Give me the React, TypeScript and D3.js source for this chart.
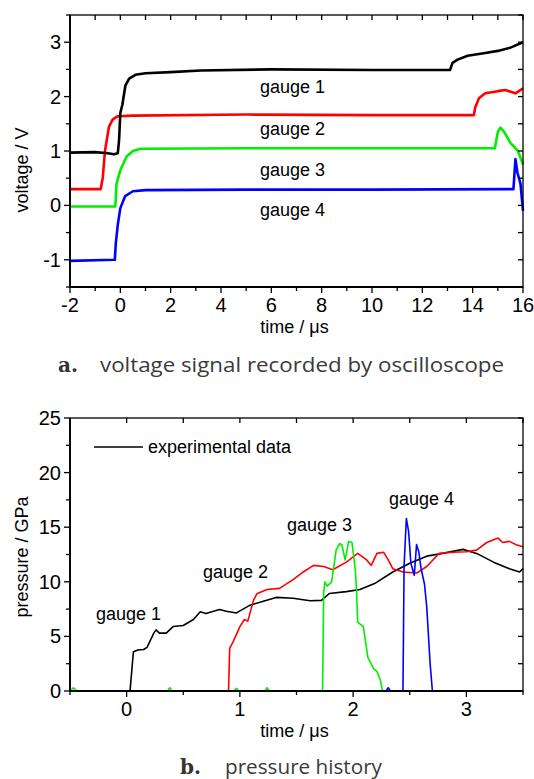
import React from "react";
import * as d3 from "d3";

// ---------- Data: panel a (voltage / V vs time / µs) ----------
const voltageXTicks = [-2, 0, 2, 4, 6, 8, 10, 12, 14, 16];
const voltageYTicks = [-1, 0, 1, 2, 3];
const gauge1Voltage: [number, number][] = [
  [-2, 0.97], [-1, 0.98], [-0.5, 0.96], [-0.25, 0.94], [-0.1, 0.96], [-0.05, 1.2], [0.0, 1.7],
  [0.08, 1.85], [0.2, 2.2], [0.35, 2.33], [0.6, 2.4], [1, 2.43], [2, 2.45], [3.2, 2.48], [6, 2.5],
  [10, 2.49], [13.1, 2.49], [13.2, 2.62], [13.4, 2.68], [13.8, 2.75], [14.5, 2.8], [15, 2.84],
  [15.5, 2.9], [16, 3.0],
];
const gauge2Voltage: [number, number][] = [
  [-2, 0.3], [-0.78, 0.3], [-0.7, 0.5], [-0.61, 1.0], [-0.45, 1.45], [-0.3, 1.58], [-0.1, 1.64],
  [0.5, 1.65], [5, 1.67], [10, 1.66], [14.05, 1.66], [14.1, 1.8], [14.25, 1.97], [14.5, 2.06],
  [15, 2.1], [15.3, 2.12], [15.7, 2.06], [16, 2.15],
];
const gauge3Voltage: [number, number][] = [
  [-2, -0.02], [-0.2, -0.02], [-0.15, 0.4], [0.0, 0.65], [0.25, 0.9], [0.5, 1.0], [0.8, 1.04],
  [5, 1.05], [10, 1.05], [14.88, 1.05], [15.0, 1.35], [15.1, 1.43], [15.25, 1.35], [15.5, 1.15],
  [15.8, 1.0], [16, 0.75],
];
const gauge4Voltage: [number, number][] = [
  [-2, -1.02], [-0.22, -1.0], [-0.18, -0.7], [-0.1, -0.35], [0.0, -0.05], [0.19, 0.17], [0.5, 0.26],
  [1, 0.28], [5, 0.29], [10, 0.29], [15.62, 0.3], [15.7, 0.85], [15.78, 0.6], [15.9, 0.4], [16, -0.1],
];

// ---------- Data: panel b (pressure / GPa vs time / µs) ----------
const pressureXTicks = [0, 1, 2, 3];
const pressureYTicks = [0, 5, 10, 15, 20, 25];
const gauge1Pressure: [number, number][] = [
  [-0.5, 0], [0.03, 0], [0.06, 3.6], [0.1, 3.75], [0.15, 3.8], [0.18, 4.0], [0.24, 5.3], [0.26, 5.6],
  [0.29, 5.3], [0.35, 5.3], [0.41, 5.9], [0.5, 6.0], [0.59, 6.55], [0.65, 7.25], [0.7, 7.1],
  [0.82, 7.47], [0.88, 7.3], [0.97, 7.15], [1.09, 7.86], [1.2, 8.2], [1.32, 8.57], [1.47, 8.5],
  [1.62, 8.26], [1.72, 8.3], [1.79, 8.93], [1.94, 9.1], [2.06, 9.3], [2.2, 9.9], [2.35, 10.9],
  [2.5, 11.7], [2.65, 12.35], [2.79, 12.6], [2.97, 12.97], [3.09, 12.6], [3.24, 11.8], [3.38, 11.2],
  [3.47, 10.9], [3.5, 11.2],
];
const gauge2Pressure: [number, number][] = [
  [-0.5, 0], [0.9, 0], [0.91, 3.9], [0.94, 4.5], [1.0, 5.9], [1.04, 6.55], [1.07, 6.4], [1.12, 8.3],
  [1.15, 8.9], [1.24, 9.3], [1.35, 9.4], [1.47, 10.2], [1.56, 10.9], [1.65, 11.5], [1.74, 11.4],
  [1.82, 11.1], [1.94, 11.8], [2.04, 12.6], [2.12, 12.0], [2.16, 11.5], [2.21, 12.6], [2.27, 12.7],
  [2.31, 12.0], [2.35, 11.2], [2.44, 10.9], [2.56, 10.8], [2.65, 11.4], [2.76, 12.6], [2.88, 12.7],
  [3.0, 12.75], [3.09, 12.9], [3.18, 13.6], [3.28, 14.0], [3.32, 13.6], [3.38, 13.7], [3.44, 13.4],
  [3.5, 13.2],
];
const gauge3Pressure: [number, number][] = [
  [-0.5, 0], [-0.47, 0.3], [-0.44, 0], [0.36, 0], [0.38, 0.3], [0.4, 0], [0.95, 0], [0.97, 0.25],
  [0.99, 0], [1.22, 0], [1.24, 0.3], [1.26, 0], [1.73, 0], [1.74, 9.0], [1.75, 10.0], [1.77, 9.6],
  [1.81, 10.0], [1.85, 12.9], [1.88, 13.5], [1.9, 13.4], [1.93, 12.0], [1.96, 13.7], [1.99, 13.6],
  [2.02, 11], [2.03, 9.2], [2.04, 6.3], [2.09, 5.9], [2.13, 3.1], [2.18, 2.05], [2.21, 1.8],
  [2.24, 1.0], [2.26, 0],
];
const gauge4Pressure: [number, number][] = [
  [-0.5, 0], [2.29, 0], [2.31, 0.3], [2.33, 0], [2.44, 0], [2.45, 11.5], [2.47, 15.8], [2.49, 14.6],
  [2.51, 11.7], [2.54, 10.6], [2.56, 13.4], [2.58, 12.75], [2.6, 11.2], [2.63, 9.8], [2.65, 7.7],
  [2.68, 2.5], [2.7, 0],
];

const FONT = "'Liberation Sans', Arial, sans-serif";

type Series = { data: [number, number][]; color: string };
type Label = { text: string; x: number; y: number };

function Panel(props: {
  left: number; top: number; right: number; bottom: number;
  xDomain: [number, number]; yDomain: [number, number];
  xTicks: number[]; yTicks: number[];
  xMinor: number; yMinor: number;
  series: Series[]; strokeWidth: number;
  labels: Label[]; yTitle: string; yTitleCenter: number;
  xTitleBaseline: number; xTickBaseline: number;
}) {
  const { left, top, right, bottom } = props;
  const x = d3.scaleLinear().domain(props.xDomain).range([left, right]);
  const y = d3.scaleLinear().domain(props.yDomain).range([bottom, top]);
  const line = d3.line<[number, number]>().x((d) => x(d[0])).y((d) => y(d[1]));
  const xAll = d3.range(props.xDomain[0], props.xDomain[1] + 1e-9, props.xMinor);
  const yAll = d3.range(props.yDomain[0], props.yDomain[1] + 1e-9, props.yMinor);
  const isMajor = (v: number, ticks: number[]) => ticks.some((t) => Math.abs(t - v) < 1e-6);
  return (
    <g>
      {props.series.map((s, i) => (
        <path key={i} d={line(s.data) || ""} fill="none" stroke={s.color}
          strokeWidth={props.strokeWidth} strokeLinejoin="round" />
      ))}
      <rect x={left} y={top} width={right - left} height={bottom - top} fill="none" stroke="#000" strokeWidth={1.3} />
      <line x1={left} x2={left} y1={top} y2={bottom} stroke="#000" strokeWidth={1.8} />
      <line x1={left} x2={right} y1={bottom} y2={bottom} stroke="#000" strokeWidth={1.8} />
      {xAll.map((v, i) => {
        const maj = isMajor(v, props.xTicks);
        return (
          <g key={"x" + i}>
            <line x1={x(v)} x2={x(v)} y1={bottom} y2={bottom + (maj ? 6 : 4)} stroke="#000" strokeWidth={1.3} />
            <line x1={x(v)} x2={x(v)} y1={top} y2={top + 5} stroke="#000" strokeWidth={1.3} />
          </g>
        );
      })}
      {yAll.map((v, i) => {
        const maj = isMajor(v, props.yTicks);
        return (
          <g key={"y" + i}>
            <line x1={left - (maj ? 6 : 4)} x2={left} y1={y(v)} y2={y(v)} stroke="#000" strokeWidth={1.3} />
            <line x1={right - 5} x2={right} y1={y(v)} y2={y(v)} stroke="#000" strokeWidth={1.3} />
          </g>
        );
      })}
      {props.xTicks.map((v) => (
        <text key={"xl" + v} x={x(v)} y={props.xTickBaseline} textAnchor="middle" fontSize={20} fontFamily={FONT}>
          {v < 0 ? "-" + Math.abs(v) : v}
        </text>
      ))}
      {props.yTicks.map((v) => (
        <text key={"yl" + v} x={left - 9} y={y(v)} dy="0.35em" textAnchor="end" fontSize={20} fontFamily={FONT}>
          {v < 0 ? "-" + Math.abs(v) : v}
        </text>
      ))}
      <text x={(left + right) / 2 - 2} y={props.xTitleBaseline} textAnchor="middle" fontSize={18} fontFamily={FONT}>
        time / μs
      </text>
      <text transform={`translate(28,${props.yTitleCenter}) rotate(-90)`} textAnchor="middle" fontSize={18} fontFamily={FONT}>
        {props.yTitle}
      </text>
      {props.labels.map((l, i) => (
        <text key={"l" + i} x={l.x} y={l.y} fontSize={18} fontFamily={FONT}>{l.text}</text>
      ))}
    </g>
  );
}

export default function App() {
  return (
    <svg width={534} height={779} style={{ position: "absolute", left: 0, top: 0, background: "#fff" }}>
      <rect width={534} height={779} fill="#fff" />
      <Panel
        left={70} top={15} right={523} bottom={287}
        xDomain={[-2, 16]} yDomain={[-1.5, 3.5]}
        xTicks={voltageXTicks} yTicks={voltageYTicks} xMinor={1} yMinor={0.5}
        series={[
          { data: gauge2Voltage, color: "#ff0000" },
          { data: gauge1Voltage, color: "#000000" },
          { data: gauge3Voltage, color: "#00ee00" },
          { data: gauge4Voltage, color: "#0000ff" },
        ]}
        strokeWidth={2.6}
        labels={[
          { text: "gauge 1", x: 260, y: 93 },
          { text: "gauge 2", x: 260, y: 135 },
          { text: "gauge 3", x: 260, y: 176 },
          { text: "gauge 4", x: 260, y: 216 },
        ]}
        yTitle="voltage / V" yTitleCenter={170}
        xTitleBaseline={333} xTickBaseline={312}
      />
      <Panel
        left={70} top={418} right={523} bottom={691}
        xDomain={[-0.5, 3.5]} yDomain={[0, 25]}
        xTicks={pressureXTicks} yTicks={pressureYTicks} xMinor={0.5} yMinor={2.5}
        series={[
          { data: gauge1Pressure, color: "#000000" },
          { data: gauge2Pressure, color: "#ff0000" },
          { data: gauge3Pressure, color: "#00ee00" },
          { data: gauge4Pressure, color: "#0000ff" },
        ]}
        strokeWidth={1.6}
        labels={[
          { text: "gauge 1", x: 96, y: 620 },
          { text: "gauge 2", x: 203, y: 578 },
          { text: "gauge 3", x: 287, y: 531 },
          { text: "gauge 4", x: 389, y: 505 },
          { text: "experimental data", x: 148, y: 453 },
        ]}
        yTitle="pressure / GPa" yTitleCenter={557}
        xTitleBaseline={737} xTickBaseline={716}
      />
      <line x1={94} x2={143} y1={447} y2={447} stroke="#000" strokeWidth={1.6} />
      <text x={58} y={372} fontSize={20} fontWeight="bold" fontFamily="'DejaVu Serif', serif" fill="#333">a.</text>
      <text x={100} y={372} fontSize={20} fontFamily="'Open Sans', sans-serif" fill="#3a3a3a" textLength={404} lengthAdjust="spacingAndGlyphs">
        voltage signal recorded by oscilloscope
      </text>
      <text x={180} y={774} fontSize={20} fontWeight="bold" fontFamily="'DejaVu Serif', serif" fill="#333">b.</text>
      <text x={225} y={774} fontSize={20} fontFamily="'Open Sans', sans-serif" fill="#3a3a3a" textLength={157} lengthAdjust="spacingAndGlyphs">
        pressure history
      </text>
    </svg>
  );
}
